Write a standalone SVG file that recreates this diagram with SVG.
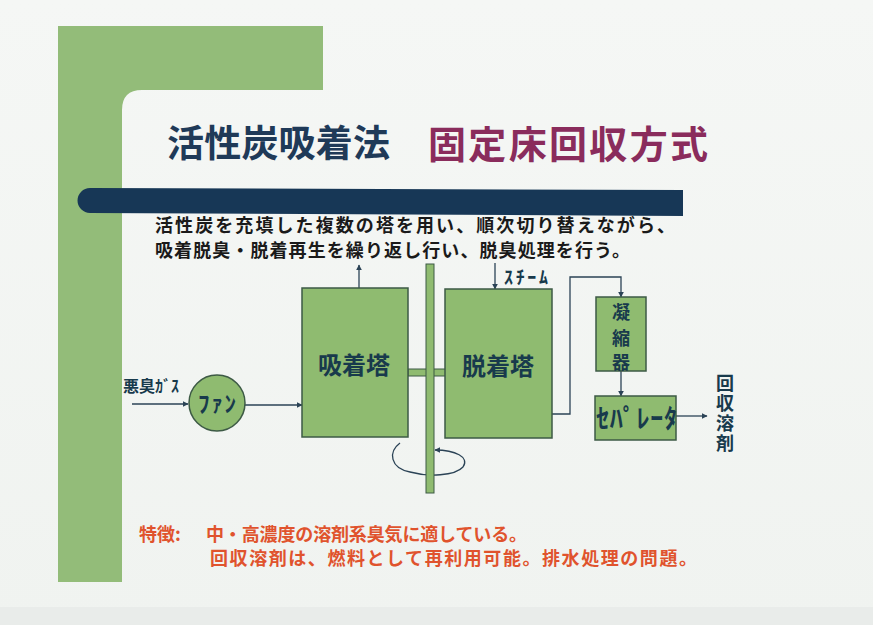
<svg xmlns="http://www.w3.org/2000/svg" width="873" height="625" viewBox="0 0 873 625">
  <defs>
    <marker id="arr" viewBox="0 0 10 10" refX="9" refY="5" markerWidth="6" markerHeight="6" orient="auto-start-reverse" markerUnits="userSpaceOnUse">
      <path d="M0,0 L10,5 L0,10 Z" fill="#2b4356"/>
    </marker>
    <linearGradient id="bg" x1="0" y1="0" x2="0" y2="1">
      <stop offset="0" stop-color="#f5f7f5"/>
      <stop offset="1" stop-color="#f0f3f0"/>
    </linearGradient>
  </defs>
  <style>
    .jp { font-family: "Noto Sans CJK JP", "Noto Sans CJK SC", sans-serif; }
    .box { fill: #8fbb70; stroke: #3d5a45; stroke-width: 1.5; }
    .line { fill: none; stroke: #2b4356; stroke-width: 1.3; }
    .lbl { fill: #183a4c; font-weight: bold; }
    .body { fill: #1a1a1a; font-weight: bold; font-size: 18px; }
    .note { fill: #e0532d; font-size: 18px; font-weight: bold; }
  </style>

  <rect x="0" y="0" width="873" height="625" fill="url(#bg)"/>
  <rect x="0" y="607" width="873" height="18" fill="#e9ecea"/>

  <!-- green L frame -->
  <path d="M58,26 H323 V90 H142 Q122,90 122,110 V582 H58 Z" fill="#93bc79"/>

  <!-- titles -->
  <text class="jp" x="167" y="157" font-size="37" font-weight="bold" fill="#1f3a58" textLength="223">活性炭吸着法</text>
  <text class="jp" x="428" y="158" font-size="38" font-weight="bold" fill="#8a2c5c" textLength="280">固定床回収方式</text>

  <!-- body text -->
  <text class="jp body" x="155" y="232" textLength="520">活性炭を充填した複数の塔を用い、順次切り替えながら、</text>
  <text class="jp body" x="155" y="257" textLength="475">吸着脱臭・脱着再生を繰り返し行い、脱臭処理を行う。</text>

  <!-- dark bar -->
  <path d="M90,188 L683,190 V216 L90,213 A12.5,12.5 0 0 1 90,188 Z" fill="#173756"/>

  <!-- connectors -->
  <g id="connectors">
    <line class="line" x1="132" y1="404" x2="188" y2="404" marker-end="url(#arr)"/>
    <line class="line" x1="245" y1="405" x2="302" y2="405" marker-end="url(#arr)"/>
    <line class="line" x1="359" y1="288" x2="359" y2="265" marker-end="url(#arr)"/>
    <line class="line" x1="495" y1="263" x2="495" y2="289" marker-end="url(#arr)"/>
    <polyline class="line" points="552,414 570,414 570,277 621,277 621,297" marker-end="url(#arr)"/>
    <line class="line" x1="621" y1="371" x2="621" y2="396" marker-end="url(#arr)"/>
    <line class="line" x1="676" y1="416" x2="707" y2="416" marker-end="url(#arr)"/>
    <path class="line" d="M400,443 C388,452 390,468 410,472 C428,477 455,476 463,467 C470,457 455,450 435,450" marker-end="url(#arr)"/>
  </g>

  <!-- shaft and coupling -->
  <g id="shaft">
    <rect x="408" y="369" width="44" height="7" fill="#8fbb70" stroke="#3d5a45" stroke-width="1"/>
    <rect x="426" y="264" width="8" height="229" fill="#8fbb70" stroke="#3d5a45" stroke-width="1"/>
  </g>

  <g id="gas-label">
    <text class="jp" x="123" y="392" font-size="16" font-weight="bold" fill="#183a4c">悪臭ｶﾞｽ</text>
  </g>

  <g id="fan">
    <circle cx="217" cy="403" r="28" class="box"/>
    <text class="jp lbl" x="217" y="412" font-size="23" text-anchor="middle" textLength="38">ﾌｧﾝ</text>
  </g>

  <g id="adsorber">
    <rect class="box" x="302" y="288" width="106" height="149"/>
    <text class="jp lbl" x="354" y="374" font-size="24" text-anchor="middle">吸着塔</text>
  </g>

  <g id="desorber">
    <rect class="box" x="445" y="289" width="107" height="149"/>
    <text class="jp lbl" x="498" y="375" font-size="24" text-anchor="middle">脱着塔</text>
  </g>

  <g id="steam">
    <text class="jp lbl" x="504" y="284" font-size="18" fill="#1f4a6a" textLength="44">ｽﾁｰﾑ</text>
  </g>

  <g id="condenser">
    <rect class="box" x="596" y="297" width="50" height="74"/>
    <text class="jp lbl" x="621" y="319" font-size="18" text-anchor="middle">凝</text>
    <text class="jp lbl" x="621" y="345" font-size="18" text-anchor="middle">縮</text>
    <text class="jp lbl" x="621" y="369" font-size="18" text-anchor="middle">器</text>
  </g>

  <g id="separator">
    <rect class="box" x="595" y="396" width="81" height="44"/>
    <text class="jp lbl" x="596" y="428" font-size="26" textLength="81">ｾﾊﾟﾚｰﾀ</text>
  </g>

  <g id="recovered">
    <text class="jp lbl" x="725" y="374" font-size="18" fill="#1a2a3a" writing-mode="vertical-rl" letter-spacing="2">回収溶剤</text>
  </g>

  <!-- features -->
  <text class="jp note" x="139" y="541">特徴:</text>
  <text class="jp note" x="206" y="541" textLength="321">中・高濃度の溶剤系臭気に適している。</text>
  <text class="jp note" x="210" y="565" textLength="487">回収溶剤は、燃料として再利用可能。排水処理の問題。</text>
</svg>
